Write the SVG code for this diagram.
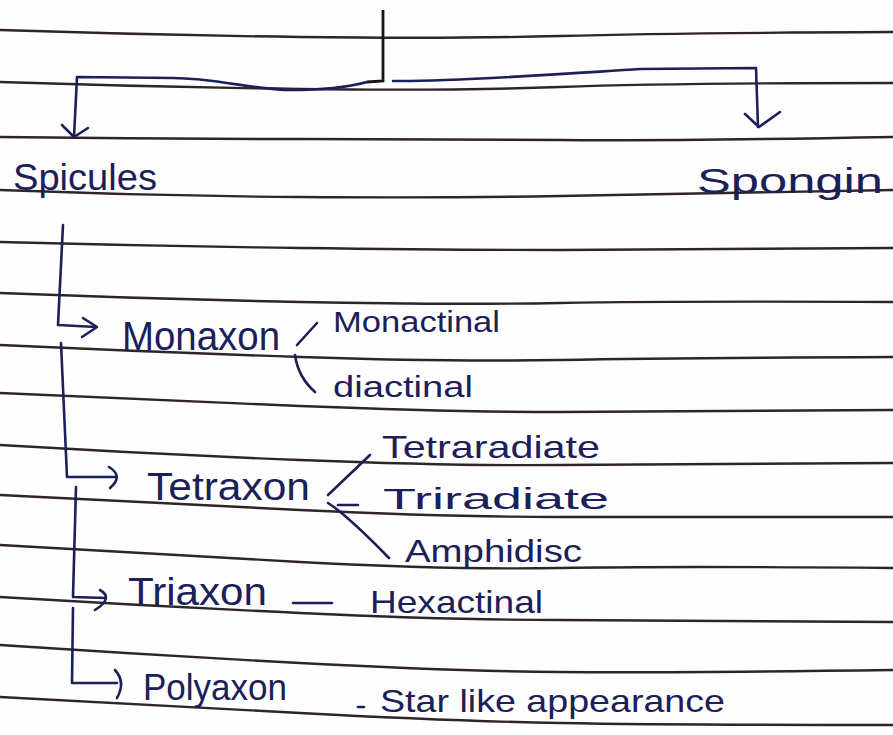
<svg xmlns="http://www.w3.org/2000/svg" width="893" height="735" viewBox="0 0 893 735">
<style>
.rule{fill:none;stroke:#2e2529;stroke-width:2.4;stroke-linecap:round}
.ink{fill:none;stroke:#1b2058;stroke-width:2.6;stroke-linecap:round;stroke-linejoin:round}
.top{fill:none;stroke:#141414;stroke-width:2.8}
text{font-family:"Liberation Sans",Arial,sans-serif;fill:#1b2058}
</style>
<rect width="893" height="735" fill="#fefefe"/>
<g id="paper-lines">
<path class="rule" d="M0 30 Q150 35 300 37 T560 36 T893 32"/>
<path class="rule" d="M0 82 Q150 87 300 89 T560 87 T893 83"/>
<path class="rule" d="M0 137 Q150 139 300 139 T560 140 T893 137"/>
<path class="rule" d="M0 190 Q150 196 300 197 T560 196 T893 190"/>
<path class="rule" d="M0 242 Q150 246 300 248 T560 250 T893 248"/>
<path class="rule" d="M0 293 Q150 299 300 302 T560 303 T893 302"/>
<path class="rule" d="M0 345 Q150 352 300 357 T560 360 T893 357"/>
<path class="rule" d="M0 393 Q150 400 300 406 T560 412 T893 410"/>
<path class="rule" d="M0 445 Q150 454 300 460 T560 465 T893 463"/>
<path class="rule" d="M0 495 Q150 503 300 510 T560 517 T893 517"/>
<path class="rule" d="M0 545 Q150 554 300 562 T560 568 T893 568"/>
<path class="rule" d="M0 597 Q150 606 300 613 T560 620 T893 622"/>
<path class="rule" d="M0 645 Q150 655 300 663 T560 672 T893 670"/>
<path class="rule" d="M0 697 Q150 705 300 713 T560 723 T893 725"/>
</g>
<g id="connectors">
<path class="top" d="M383 10 L383 81 L367 82"/>
<path class="ink" d="M367 82 C345 88 320 90 290 90 C255 90 215 78 173 78 L77 77 L74 137"/>
<path class="ink" d="M62 125 L74 137 L88 128"/>
<path class="ink" d="M393 81 C450 82 560 74 640 69 L756 68 L758 127"/>
<path class="ink" d="M745 114 L759 127 L780 112"/>
<path class="ink" d="M63 225 L58 325 L96 327"/>
<path class="ink" d="M83 318 L97 327 L82 337"/>
<path class="ink" d="M61 343 L67 477 L116 477"/>
<path class="ink" d="M109 467 Q124 476 110 488"/>
<path class="ink" d="M76 487 L73 597 L106 598"/>
<path class="ink" d="M100 590 Q114 598 95 610"/>
<path class="ink" d="M73 608 L72 683 L117 683"/>
<path class="ink" d="M115 670 Q126 682 117 698"/>
<path class="ink" d="M297 345 L317 323"/>
<path class="ink" d="M295 355 Q298 377 315 392"/>
<path class="ink" d="M370 455 L328 495"/>
<path class="ink" d="M338 505 L358 505"/>
<path class="ink" d="M328 503 Q347 515 389 558"/>
<path class="ink" d="M293 603 L332 603"/>
<path class="ink" d="M358 707 L364 707"/>
</g>
<g id="spicules"><text x="13" y="190" font-size="36" textLength="144" lengthAdjust="spacingAndGlyphs">Spicules</text></g>
<g id="spongin"><text x="697" y="193" font-size="35" textLength="186" lengthAdjust="spacingAndGlyphs">Spongin</text></g>
<g id="monaxon"><text x="122" y="350" font-size="40" textLength="158" lengthAdjust="spacingAndGlyphs">Monaxon</text></g>
<g id="monactinal"><text x="333" y="332" font-size="30" textLength="167" lengthAdjust="spacingAndGlyphs">Monactinal</text></g>
<g id="diactinal"><text x="333" y="397" font-size="30" textLength="140" lengthAdjust="spacingAndGlyphs">diactinal</text></g>
<g id="tetraxon"><text x="147" y="500" font-size="38" textLength="163" lengthAdjust="spacingAndGlyphs">Tetraxon</text></g>
<g id="tetraradiate"><text x="382" y="458" font-size="32" textLength="218" lengthAdjust="spacingAndGlyphs">Tetraradiate</text></g>
<g id="triradiate"><text x="383" y="509" font-size="30" textLength="226" lengthAdjust="spacingAndGlyphs">Triradiate</text></g>
<g id="amphidisc"><text x="405" y="562" font-size="32" textLength="177" lengthAdjust="spacingAndGlyphs">Amphidisc</text></g>
<g id="triaxon"><text x="128" y="605" font-size="38" textLength="139" lengthAdjust="spacingAndGlyphs">Triaxon</text></g>
<g id="hexactinal"><text x="370" y="613" font-size="32" textLength="173" lengthAdjust="spacingAndGlyphs">Hexactinal</text></g>
<g id="polyaxon"><text x="143" y="700" font-size="36" textLength="144" lengthAdjust="spacingAndGlyphs">Polyaxon</text></g>
<g id="star-like"><text x="380" y="712" font-size="32" textLength="345" lengthAdjust="spacingAndGlyphs">Star like appearance</text></g>
</svg>
